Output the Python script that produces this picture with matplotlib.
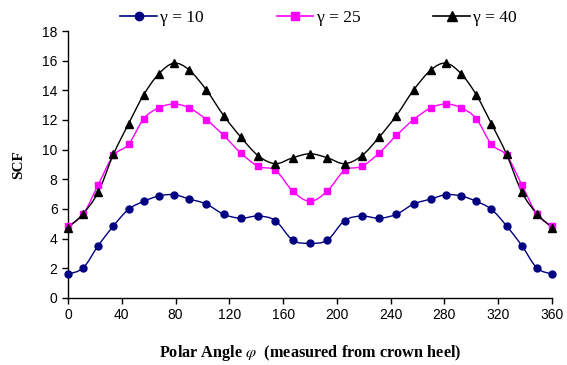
import numpy as np
import matplotlib
matplotlib.use("Agg")
import matplotlib.pyplot as plt
from matplotlib.path import Path
from matplotlib.patches import PathPatch
from matplotlib.lines import Line2D

plt.rcParams["mathtext.fontset"] = "stix"

# polar angle of each node (deg)
angles = [0, 11.25, 22.5, 33.75, 45, 56.25, 67.5, 78.75, 90,
          102.86, 115.71, 128.57, 141.43, 154.29, 167.14, 180,
          192.86, 205.71, 218.57, 231.43, 244.29, 257.14, 270,
          281.25, 292.5, 303.75, 315, 326.25, 337.5, 348.75, 360]

scf_g10 = [1.60, 2.02, 3.53, 4.85, 5.97, 6.51, 6.87, 6.96, 6.67,
           6.33, 5.64, 5.37, 5.52, 5.21, 3.89, 3.68,
           3.89, 5.21, 5.52, 5.37, 5.64, 6.33, 6.67,
           6.96, 6.87, 6.51, 5.97, 4.85, 3.53, 2.02, 1.60]

scf_g25 = [4.83, 5.64, 7.64, 9.61, 10.35, 12.08, 12.82, 13.07, 12.82,
           12.03, 10.96, 9.77, 8.87, 8.60, 7.20, 6.51,
           7.20, 8.60, 8.87, 9.77, 10.96, 12.03, 12.82,
           13.07, 12.82, 12.08, 10.35, 9.61, 7.64, 5.64, 4.83]

scf_g40 = [4.74, 5.68, 7.14, 9.68, 11.74, 13.69, 15.11, 15.83, 15.38,
           14.03, 12.30, 10.84, 9.59, 9.05, 9.45, 9.72,
           9.45, 9.05, 9.59, 10.84, 12.30, 14.03, 15.38,
           15.83, 15.11, 13.69, 11.74, 9.68, 7.14, 5.68, 4.74]

labels = ["\u03b3 = 10", "\u03b3 = 25", "\u03b3 = 40"]
colors = ["#000080", "#FF00FF", "#000000"]
markers = ["o", "s", "^"]
msizes = [5, 5, 6]


def smooth_path(x, y):
    # bezier segments through every node, like a spreadsheet "smoothed line"
    p = np.column_stack([x, y]).astype(float)
    n = len(p)
    verts = [p[0]]
    codes = [Path.MOVETO]
    for i in range(n - 1):
        p0 = p[i - 1] if i > 0 else p[i]
        p3 = p[i + 2] if i + 2 < n else p[i + 1]
        c1 = p[i] + (p[i + 1] - p0) / 6.0
        c2 = p[i + 1] - (p3 - p[i]) / 6.0
        verts += [c1, c2, p[i + 1]]
        codes += [Path.CURVE4] * 3
    return Path(verts, codes)


fig = plt.figure(figsize=(5.67, 3.65), dpi=100)
ax = fig.add_axes([0.12, 0.184, 0.8535, 0.731])

series = [scf_g10, scf_g25, scf_g40]
handles = []
for vals, lab, c, m, ms in zip(series, labels, colors, markers, msizes):
    patch = PathPatch(smooth_path(angles, vals), facecolor="none",
                      edgecolor=c, lw=1.0, transform=ax.transData, clip_on=False)
    ax.add_patch(patch)
    ax.plot(angles, vals, linestyle="none", marker=m, markersize=ms,
            color=c, markeredgecolor=c, clip_on=False, zorder=3)
    handles.append(Line2D([], [], color=c, lw=1.2, marker=m, markersize=ms + 1))

ax.set_xlim(0, 360)
ax.set_ylim(0, 18)
ax.set_xticks(np.arange(0, 361, 40))
ax.set_yticks(np.arange(0, 19, 2))

for s in ["top", "right"]:
    ax.spines[s].set_visible(False)
for s in ["left", "bottom"]:
    ax.spines[s].set_linewidth(1.0)

ax.tick_params(direction="out", length=4, width=1.0, labelsize=10)
for t in ax.get_xticklabels() + ax.get_yticklabels():
    t.set_family("Liberation Sans")

ax.set_ylabel("SCF", family="Liberation Serif", fontweight="bold",
              fontsize=11, labelpad=12)
ax.set_xlabel("Polar Angle $\\varphi$  (measured from crown heel)",
              family="Liberation Serif", fontweight="bold", fontsize=11.7,
              labelpad=15)

fig.legend(handles, labels, loc="center", bbox_to_anchor=(0.562, 0.951),
           ncol=3, frameon=False, handlelength=2.1, handletextpad=0.2,
           columnspacing=4.2, prop={"family": "Liberation Serif", "size": 12.5})

fig.savefig("out.png", dpi=100)
